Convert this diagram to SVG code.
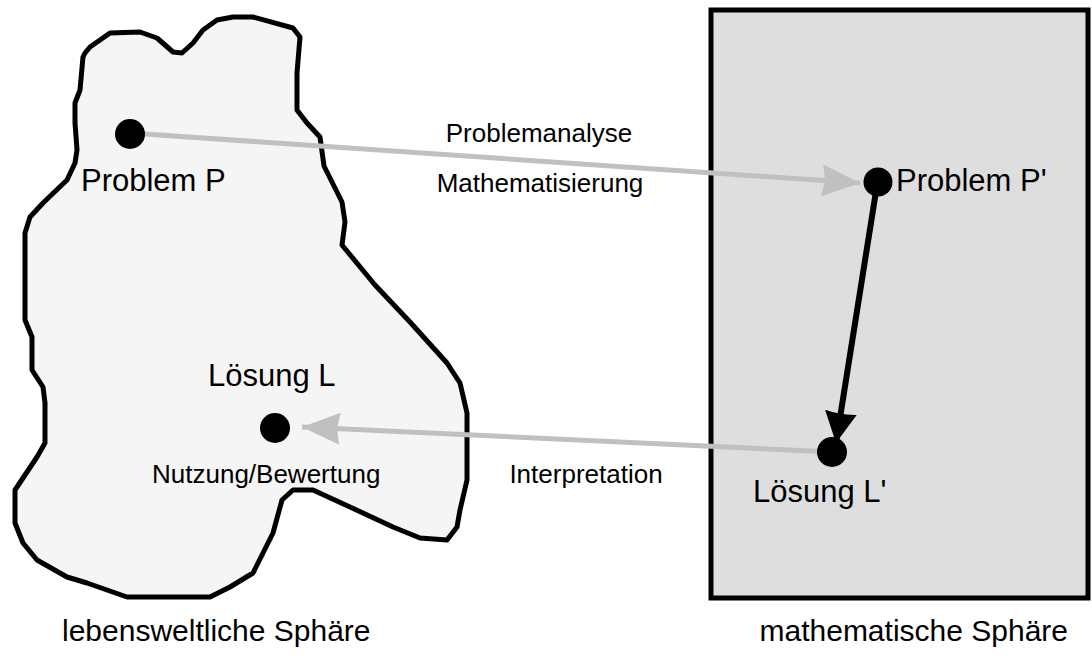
<svg xmlns="http://www.w3.org/2000/svg" width="1092" height="661" viewBox="0 0 1092 661">
<style>
text{font-family:"Liberation Sans",Arial,sans-serif;fill:#000}
.big{font-size:31px}
.mid{font-size:26px}
.sph{font-size:30px}
.dot{fill:#000}
.g{stroke:#c0c0c0;stroke-width:5;fill:none}
.k{stroke:#000;stroke-width:6;fill:none}
</style>
<defs>
<marker id="ag" markerUnits="userSpaceOnUse" markerWidth="42" markerHeight="36" refX="38" refY="16" orient="auto"><path d="M0,0 L38,16 L0,32 L3,16 Z" fill="#c0c0c0"/></marker>
<marker id="ak" markerUnits="userSpaceOnUse" markerWidth="36" markerHeight="36" refX="31" refY="16" orient="auto"><path d="M0,0 L31,16 L0,32 Q3,16 0,0 Z" fill="#000"/></marker>
</defs>
<g id="lebenswelt">
<path d="M85,53 L90,47 L110,33 L140,32 L157,38 L173,52 L182,53 L193,43 L203,30 L217,20 L233,17 L253,17 L293,28 L300,37 L297,73 L297,110 L307,123 L320,137 L324,166 L342,202 L345,222 L342,245 L375,285 L410,322 L447,363 L460,383 L467,413 L467,480 L460,510 L457,527 L447,540 L420,538 L393,527 L350,507 L313,490 L293,490 L282,500 L273,533 L253,573 L230,587 L210,597 L127,597 L87,583 L67,577 L37,560 L23,543 L15,523 L15,490 L37,457 L45,443 L45,403 L43,387 L32,370 L32,337 L25,320 L25,233 L30,217 L43,203 L67,180 L75,163 L77,150 L75,123 L75,103 L80,90 L83,57 Z" fill="#f5f5f5" stroke="#000" stroke-width="5" stroke-linejoin="round"/>
<text class="sph" x="62" y="641">lebensweltliche Sphäre</text>
</g>
<g id="mathe">
<rect x="711" y="10" width="377" height="588" fill="#dedede" stroke="#000" stroke-width="5"/>
<text class="sph" x="1068" y="641" text-anchor="end">mathematische Sphäre</text>
</g>
<g id="connectors">
<line class="g" x1="130" y1="133" x2="860" y2="183" marker-end="url(#ag)"/>
<line class="g" x1="832" y1="452" x2="302" y2="427" marker-end="url(#ag)"/>
<line class="k" x1="877" y1="185" x2="836" y2="443" marker-end="url(#ak)"/>
<text class="mid" x="539" y="142" text-anchor="middle">Problemanalyse</text>
<text class="mid" x="540" y="192" text-anchor="middle">Mathematisierung</text>
<text class="mid" x="586" y="483" text-anchor="middle">Interpretation</text>
</g>
<g id="problemP">
<circle class="dot" cx="130" cy="134" r="15"/>
<text class="big" x="81" y="191">Problem P</text>
</g>
<g id="loesungL">
<circle class="dot" cx="275" cy="428" r="15"/>
<text class="big" x="208" y="386">Lösung L</text>
<text class="mid" x="152" y="483">Nutzung/Bewertung</text>
</g>
<g id="problemP2">
<circle class="dot" cx="878" cy="182" r="14.5"/>
<text class="big" x="896" y="191">Problem P'</text>
</g>
<g id="loesungL2">
<circle class="dot" cx="832" cy="452" r="15"/>
<text class="big" x="753" y="502">Lösung L'</text>
</g>
</svg>
